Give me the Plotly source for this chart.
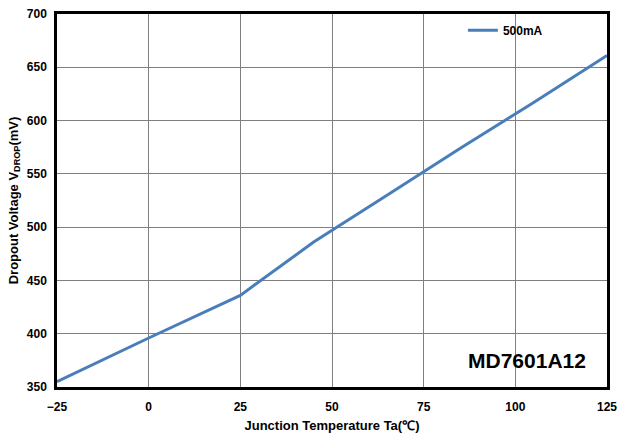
import plotly.graph_objects as go

temps = [-25, 0, 25, 45, 65, 85, 105, 125]
vdrop_500mA = [355, 396, 436, 486, 530, 574, 617, 661]
x_ticks = [-25, 0, 25, 50, 75, 100, 125]
y_ticks = [350, 400, 450, 500, 550, 600, 650, 700]

fig = go.Figure()
fig.add_trace(go.Scatter(
    x=temps, y=vdrop_500mA, mode="lines", name="500mA",
    line=dict(color="#4A7EBB", width=3),
))

axis_common = dict(
    showline=True, linecolor="black", linewidth=2.5, mirror=True,
    showgrid=True, gridcolor="#7F7F7F", gridwidth=1,
    zeroline=False, ticks="", automargin=False,
    tickfont=dict(family="Liberation Sans, Arial", size=12, color="black", weight="bold"),
)

fig.update_layout(
    width=621, height=434,
    margin=dict(l=57, r=14, t=14, b=47),
    paper_bgcolor="white", plot_bgcolor="white",
    font=dict(family="Liberation Sans, Arial", color="black"),
    showlegend=True,
    legend=dict(x=0.738, y=0.995, xanchor="left", yanchor="top",
                bgcolor="rgba(0,0,0,0)", borderwidth=0,
                font=dict(size=12, weight="bold")),
    xaxis=dict(range=[-25, 125], tickvals=x_ticks, ticklabelstandoff=7,
               title=dict(text="Junction Temperature Ta(℃)", standoff=8,
                          font=dict(size=13, weight="bold")),
               **axis_common),
    yaxis=dict(range=[350, 700], tickvals=y_ticks, ticklabelstandoff=5,
               title=dict(text="Dropout Voltage V<sub>DROP</sub>(mV)", standoff=6,
                          font=dict(size=13, weight="bold")),
               **axis_common),
    annotations=[dict(
        text="<b>MD7601A12</b>", xref="paper", yref="paper",
        x=0.965, y=0.035, xanchor="right", yanchor="bottom", showarrow=False,
        font=dict(size=21, color="black", family="Liberation Sans, Arial"),
    )],
)

fig.write_html("out.html", config={"displayModeBar": False},
               post_script="document.body.style.margin='0';document.body.style.overflow='hidden';")
